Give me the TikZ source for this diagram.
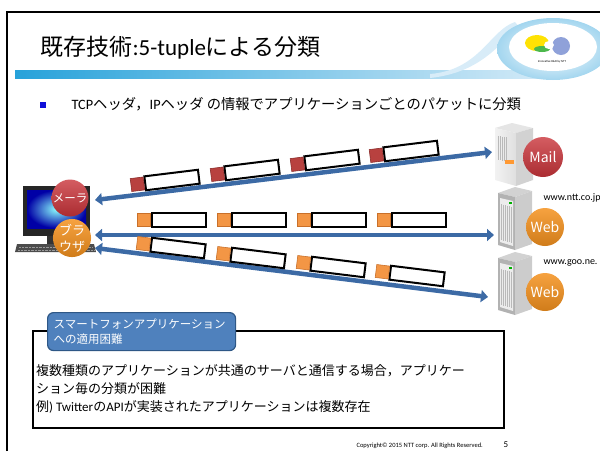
\documentclass[tikz,border=0pt]{standalone}
\usepackage{fontspec}
\setmainfont{Noto Sans CJK JP}
\newfontfamily\latinfont{Carlito}
\usetikzlibrary{arrows.meta, positioning}
\definecolor{arrowblue}{HTML}{3C6AA5}
\definecolor{pktred}{HTML}{B8413F}
\definecolor{pktredline}{HTML}{8C2D2B}
\definecolor{pktorange}{HTML}{F39645}
\definecolor{pktorangeline}{HTML}{C9702A}
\definecolor{badgered}{HTML}{C9343A}
\definecolor{badgeorange}{HTML}{F5921E}
\definecolor{callblue}{HTML}{4F81BD}
\definecolor{calledge}{HTML}{2E5786}
\definecolor{barblue}{HTML}{27A2DA}
\definecolor{barpale}{HTML}{D8ECF8}
\definecolor{bulletblue}{HTML}{1010D8}

\begin{document}
\begin{tikzpicture}[
  x=1pt, y=-1pt,
  badge/.style={circle, minimum size=37pt, inner sep=0pt, text=white, align=center,
                font=\fontsize{11.5}{13}\selectfont},
  pbody/.style={draw=black, line width=2pt, fill=white, minimum width=54pt,
                minimum height=14pt, inner sep=0pt},
  phead/.style={minimum width=13pt, minimum height=13pt, inner sep=0pt, anchor=east, line width=0.6pt},
  arr/.style={{Triangle[length=7pt,width=12pt]}-{Triangle[length=7pt,width=12pt]},
              line width=4.5pt, draw=arrowblue},
  callout/.style={draw=calledge, line width=1.2pt, fill=callblue, rounded corners=6pt,
                  text=white, align=left, text width=176pt, inner xsep=6pt, inner ysep=2pt,
                  minimum height=38pt, font=\fontsize{11.5}{14.5}\selectfont}
]
\useasboundingbox (0,0) rectangle (600,451);

% slide frame and header bar
\draw[line width=2pt] (7,451) -- (7,12) -- (600,12);
\shade[left color=barblue, right color=barpale] (15,70) rectangle (560,78);
\fill[barpale] (430,74) .. controls (480,70) and (490,30) .. (515,22)
  -- (520,28) .. controls (500,40) and (485,72) .. (430,78) -- cycle;
\shade[inner color=white, outer color=barpale!70!barblue] (553,49) ellipse [x radius=56pt, y radius=31pt];
\fill[white] (553,47) ellipse [x radius=44pt, y radius=24pt];
\fill[yellow!85!orange] (537,43) ellipse [x radius=12pt, y radius=8pt];
\fill[green!60!black!70] (542,49) ellipse [x radius=8pt, y radius=3pt];
\fill[cyan!35!blue!45] (561,46) ellipse [x radius=9pt, y radius=9pt];
\fill[white] (549,45) ellipse [x radius=5pt, y radius=4pt];
\node[font=\latinfont\fontsize{3}{3}\selectfont] (logo) at (552,62) {Innovative R\&D by NTT};

\node[anchor=base west, font=\fontsize{23}{27}\selectfont] (title) at (37,55)
  {既存技術{\latinfont:5-tuple}による分類};
\node[fill=bulletblue, minimum size=5.5pt, inner sep=0pt] (bul) at (43,105) {};
\node[anchor=west, font=\fontsize{14.3}{16}\selectfont] (lead) at (68,104)
  {{\latinfont TCP}ヘッダ，{\latinfont IP}ヘッダ の情報でアプリケーションごとのパケットに分類};

% client PC
\fill[black!85] (23,186) rectangle (90,236);
\shade[inner color=cyan!45, outer color=blue!65!black] (27,190) rectangle (86,228);
\fill[black!80] (47,236) rectangle (60,245);
\fill[black!70] (17,244) -- (94,244) -- (96,252) -- (15,252) -- cycle;
\draw[black!40, densely dotted] (19,247) -- (92,247) (18,250) -- (94,250);
\node[badge, top color=badgered!80!white, bottom color=badgered!85!black] (mailer) at (70,198) {メーラ};
\node[badge, minimum size=38pt, font=\fontsize{13}{16}\selectfont,
      top color=badgeorange!85!white, bottom color=badgeorange!85!black] (browser) at (72,238) {ブラ\\ウザ};

% mail server
\fill[gray!20] (495,128) -- (512,123) -- (533,128) -- (516,133) -- cycle;
\shade[left color=gray!10, right color=gray!25] (495,128) -- (516,133) -- (516,186) -- (495,180) -- cycle;
\fill[gray!35] (516,133) -- (533,128) -- (533,180) -- (516,186) -- cycle;
\foreach \i in {0,...,4}
  \draw[gray!55, line width=0.5pt] (498+\i*2,136+\i*0.3) -- (498+\i*2,160+\i*0.3);
\fill[orange!80] (505,160) rectangle (514,164);
\node[badge, minimum size=40pt, font=\fontsize{14}{16}\selectfont,
      top color=badgered!80!white, bottom color=badgered!85!black] (mail) at (543,157) {Mail};

% web servers
\foreach \dy/\host [count=\n] in {0/www.ntt.co.jp, 65/www.goo.ne.} {
  \begin{scope}[shift={(0,\dy)}]
    \fill[gray!35] (498,193) -- (515,187) -- (532,191) -- (515,197) -- cycle;
    \fill[gray!60] (498,193) -- (515,197) -- (515,250) -- (498,245) -- cycle;
    \fill[gray!15] (500,198) -- (513,201) -- (513,246) -- (500,242) -- cycle;
    \foreach \k in {0,...,5}
      \draw[gray!55, line width=0.4pt] (501.5+\k*2,204+\k*0.5) -- (501.5+\k*2,240+\k*0.5);
    \fill[green!70!black] (509,202) rectangle (512,204);
    \fill[gray!40] (515,197) -- (532,191) -- (532,244) -- (515,250) -- cycle;
    \node[anchor=west, font=\latinfont\fontsize{10}{11}\selectfont] (host\n) at (540,198) {\host};
  \end{scope}
}
\node[badge, minimum size=38pt, font=\fontsize{14}{16}\selectfont,
      top color=badgeorange!85!white, bottom color=badgeorange!85!black] (web1) at (545,227) {Web};
\node[badge, minimum size=38pt, font=\fontsize{14}{16}\selectfont,
      top color=badgeorange!85!white, bottom color=badgeorange!85!black] (web2) at (545,292) {Web};

% flows
\coordinate (pcmail) at (95,200);
\coordinate (pcweb1) at (95,235);
\coordinate (pcweb2) at (95,248);
\coordinate (mailsrv) at (492,152);
\coordinate (websrv1) at (494,235);
\coordinate (websrv2) at (488,297);
\draw[arr] (pcmail) -- (mailsrv);
\draw[arr] (pcweb1) -- (websrv1);
\draw[arr] (pcweb2) -- (websrv2);

% packets
\foreach \cx/\cy [count=\i] in {172/180, 252/170, 332/160, 411/151} {
  \node[pbody, rotate=7] (mb\i) at (\cx,\cy) {};
  \node[phead, rotate=7, fill=pktred, draw=pktredline] (mh\i) at (mb\i.west) {};
}
\foreach \cx [count=\i] in {179, 259, 339, 419} {
  \node[pbody] (wb\i) at (\cx,220) {};
  \node[phead, fill=pktorange, draw=pktorangeline] (wh\i) at (wb\i.west) {};
}
\foreach \cx/\cy [count=\i] in {178/248, 258/258, 338/267, 417/276} {
  \node[pbody, rotate=-7] (gb\i) at (\cx,\cy) {};
  \node[phead, rotate=-7, fill=pktorange, draw=pktorangeline] (gh\i) at (gb\i.west) {};
}

% problem box
\node[draw, line width=2pt, minimum width=471pt, minimum height=97pt, anchor=north west,
      inner sep=0pt] (issue) at (32,330) {};
\node[anchor=north west, align=left, inner sep=0pt, font=\fontsize{13}{18}\selectfont] (issuetext) at (36,364)
  {複数種類のアプリケーションが共通のサーバと通信する場合，アプリケー\\
   ション毎の分類が困難\\
   例{\latinfont ) Twitter}の{\latinfont API}が実装されたアプリケーションは複数存在};
\node[callout, anchor=north west] (smart) at (47,312)
  {スマートフォンアプリケーション\\への適用困難};

\node[anchor=base west, font=\latinfont\fontsize{6.5}{7}\selectfont] (copy) at (353,447)
  {Copyright\textcopyright\ 2015 NTT corp. All Rights Reserved.};
\node[anchor=base west, font=\latinfont\fontsize{9}{10}\selectfont] (page) at (500,447) {5};
\end{tikzpicture}
\end{document}
